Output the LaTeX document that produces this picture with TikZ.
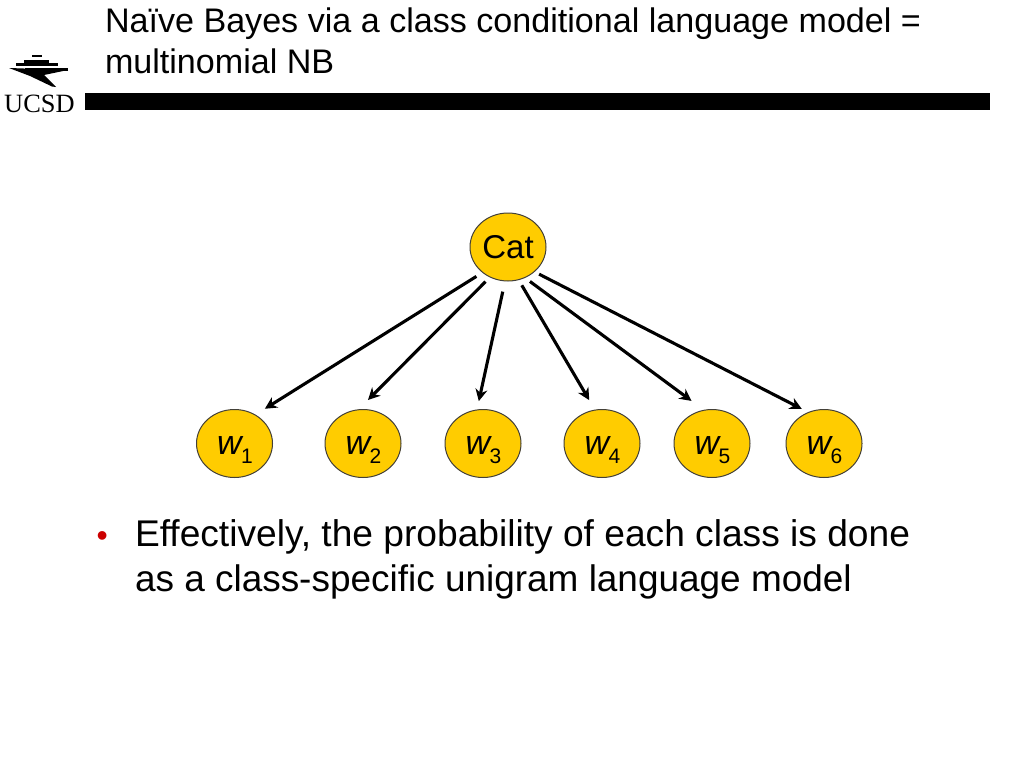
\documentclass[tikz,border=0pt]{standalone}
\usepackage{fontspec}
\setmainfont[Ligatures=NoCommon]{Liberation Sans}
\newfontfamily\serifname{Liberation Serif}
\usetikzlibrary{arrows.meta,shapes.geometric}
\definecolor{nodeyellow}{HTML}{FFCC00}
\definecolor{bulletred}{HTML}{CC0000}
\tikzset{
  x=1pt,y=-1pt,
  vertex/.style={draw=black!85!yellow,line width=1pt,fill=nodeyellow,ellipse,minimum width=76pt,minimum height=68pt,inner sep=0pt,font=\fontsize{33}{36}\selectfont},
  edge/.style={draw=black,line width=3.1pt,-{Stealth[length=12pt,width=12pt]}},
  slide text/.style={anchor=base west,inner sep=0pt,outer sep=0pt,text=black}
}
\newcommand{\wlabel}[1]{\raisebox{-11pt}[0pt][0pt]{\hspace*{1pt}{\fontsize{34}{36}\selectfont\textit{w}}\hspace*{-2.5pt}\raisebox{-8.5pt}{\fontsize{21}{24}\selectfont #1}}}
\begin{document}
\begin{tikzpicture}
\useasboundingbox (0,0) rectangle (1024,768);
\fill[white] (0,0) rectangle (1024,768);
% title
\node[slide text,font=\fontsize{34.1}{40}\selectfont] (title1) at (105,32.5) {Naïve Bayes via a class conditional language model =};
\node[slide text,font=\fontsize{34.1}{40}\selectfont] (title2) at (105,73) {multinomial NB};
% rule
\fill[black] (85,93) rectangle (990,110);
% logo
\fill[black] (32,55) rectangle (42,57.5);
\fill[black] (24,59.5) rectangle (49,62.5);
\fill[black] (16,63) rectangle (58,66);
\fill[black] (25,67.5) rectangle (68,71);
\fill[black] (9,68) -- (68,70) -- (44,75) -- (56,87) -- (52,86.5) -- (30,76) -- cycle;
\node[anchor=base west,inner sep=0pt,font=\serifname\fontsize{26.4}{28}\selectfont] (ucsd) at (4,112) {UCSD};
% nodes
\node[vertex] (cat) at (508,247) {Cat};
\node[vertex] (w1) at (234.5,443.5) {\wlabel{1}};
\node[vertex] (w2) at (363,443.5) {\wlabel{2}};
\node[vertex] (w3) at (483,443.5) {\wlabel{3}};
\node[vertex] (w4) at (602,443.5) {\wlabel{4}};
\node[vertex] (w5) at (712,443.5) {\wlabel{5}};
\node[vertex] (w6) at (824,443.5) {\wlabel{6}};
% connectors
\draw[edge,shorten <=7pt,shorten >=11pt] (cat.225) -- (w1.54);
\draw[edge,shorten <=6pt,shorten >=13pt] (cat.239) -- (w2.97);
\draw[edge,shorten <=10.5pt,shorten >=8.5pt] (cat.265) -- (w3.100);
\draw[edge,shorten <=6pt,shorten >=11pt] (cat.288) -- (w4.102.5);
\draw[edge,shorten <=6pt,shorten >=15pt] (cat.299.5) -- (w5.104.7);
\draw[edge,shorten <=5pt,shorten >=7pt] (cat.317) -- (w6.117.4);
% body
\node[slide text,font=\fontsize{32}{36}\selectfont,text=bulletred] (bullet) at (96.5,546) {•};
\node[slide text,font=\fontsize{37.15}{42}\selectfont] (body1) at (135,546) {Effectively, the probability of each class is done};
\node[slide text,font=\fontsize{36.95}{42}\selectfont] (body2) at (135,591) {as a class-specific unigram language model};
\end{tikzpicture}
\end{document}
